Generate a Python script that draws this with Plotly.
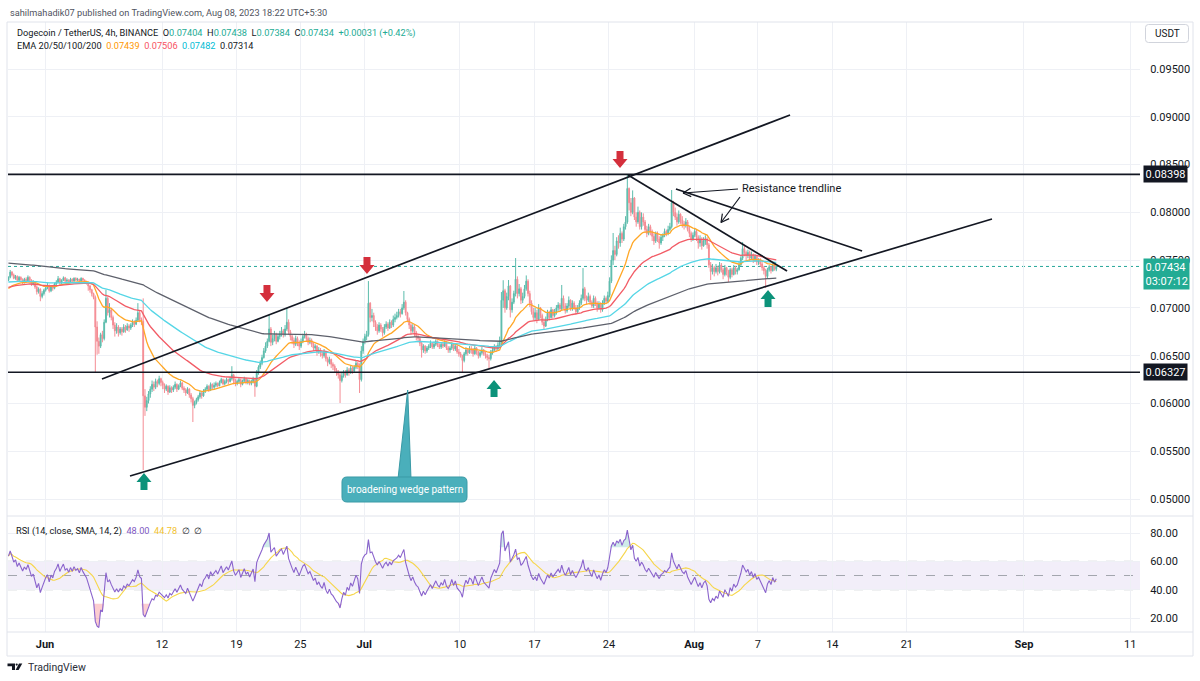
import math
import numpy as np
import pandas as pd
import plotly.graph_objects as go

# ---------------- data ----------------
# DOGE/USDT 4h candles, prices in units of 0.00001 USDT. Open = previous close.
FIRST_OPEN = 7290
LAST_CANDLE = "2023-08-08 17:30"

close_ = [
    7320, 7375, 7345,                      # May 28
    7310, 7330, 7290, 7320, 7295, 7270,    # May 29
    7300, 7285, 7320, 7290, 7250, 7265,    # May 30
    7220, 7170, 7195, 7120, 7150, 7185,    # May 31
    7210, 7230, 7180, 7225, 7205, 7250,    # Jun 1
    7270, 7305, 7260, 7290, 7315, 7280,    # Jun 2
    7290, 7270, 7300, 7280, 7310, 7290,    # Jun 3
    7300, 7280, 7310, 7290, 7275, 7260,    # Jun 4
    7230, 7190, 7150, 7110, 6800, 6650,    # Jun 5
    6600, 6720, 6680, 6850, 7100, 6950,    # Jun 6
    6980, 6900, 6820, 6760, 6800, 6740,    # Jun 7
    6780, 6750, 6800, 6770, 6810, 6790,    # Jun 8
    6820, 6850, 6830, 6870, 6950, 6880,    # Jun 9
    6860, 6080, 5960, 6030, 6100, 6150,    # Jun 10
    6200, 6170, 6230, 6210, 6260, 6220,    # Jun 11
    6190, 6150, 6180, 6120, 6165, 6140,    # Jun 12
    6170, 6200, 6150, 6185, 6215, 6160,    # Jun 13
    6140, 6110, 6150, 6090, 6050, 5980,    # Jun 14
    6010, 6040, 6070, 6110, 6080, 6130,    # Jun 15
    6150, 6180, 6140, 6200, 6170, 6190,    # Jun 16
    6210, 6185, 6220, 6250, 6205, 6230,    # Jun 17
    6250, 6230, 6260, 6300, 6240, 6210,    # Jun 18
    6230, 6250, 6200, 6235, 6260, 6225,    # Jun 19
    6240, 6210, 6230, 6260, 6180, 6330,    # Jun 20
    6380, 6420, 6480, 6550, 6600, 6650,    # Jun 21
    6780, 6640, 6680, 6720, 6650, 6700,    # Jun 22
    6730, 6760, 6720, 6780, 6850, 6750,    # Jun 23
    6700, 6660, 6620, 6680, 6640, 6600,    # Jun 24
    6650, 6700, 6720, 6680, 6640, 6660,    # Jun 25
    6620, 6580, 6600, 6540, 6560, 6520,    # Jun 26
    6500, 6540, 6470, 6430, 6460, 6410,    # Jun 27
    6390, 6350, 6320, 6300, 6240, 6290,    # Jun 28
    6330, 6300, 6350, 6320, 6370, 6340,    # Jun 29
    6380, 6420, 6390, 6250, 6550, 6650,    # Jun 30
    6700, 6720, 7050, 6900, 6920, 6850,    # Jul 1
    6800, 6760, 6820, 6780, 6740, 6800,    # Jul 2
    6830, 6790, 6850, 6820, 6880, 6900,    # Jul 3
    6920, 6960, 6940, 7000, 7060, 6950,    # Jul 4
    6880, 6820, 6760, 6800, 6740, 6700,    # Jul 5
    6680, 6630, 6560, 6600, 6550, 6580,    # Jul 6
    6600, 6630, 6590, 6620, 6650, 6610,    # Jul 7
    6590, 6620, 6600, 6640, 6580, 6560,    # Jul 8
    6580, 6620, 6570, 6600, 6540, 6520,    # Jul 9
    6500, 6450, 6520, 6560, 6530, 6570,    # Jul 10
    6560, 6520, 6580, 6540, 6500, 6530,    # Jul 11
    6560, 6520, 6500, 6480, 6470, 6530,    # Jul 12
    6560, 6590, 6570, 6610, 6640, 7080,    # Jul 13
    7180, 7000, 7120, 7230, 6980, 7060,    # Jul 14
    7150, 7300, 7150, 7200, 7080, 7120,    # Jul 15
    7200, 7280, 7150, 7050, 6960, 6900,    # Jul 16
    6950, 6880, 7000, 6920, 6850, 6810,    # Jul 17
    6880, 6950, 6900, 6980, 6920, 6960,    # Jul 18
    7000, 7030, 6990, 7100, 7020, 6970,    # Jul 19
    7020, 7080, 6990, 7050, 7000, 6960,    # Jul 20
    7000, 7050, 7100, 7200, 7100, 7080,    # Jul 21
    7120, 7060, 7020, 7100, 7050, 7000,    # Jul 22
    7040, 6980, 7050, 7100, 7070, 7130,    # Jul 23
    7280, 7500, 7600, 7560, 7700, 7680,    # Jul 24
    7780, 7720, 7850, 7900, 8250, 8100,    # Jul 25
    8000, 8150, 7950, 7900, 8000, 7850,    # Jul 26
    7950, 7900, 7820, 7780, 7850, 7800,    # Jul 27
    7750, 7700, 7780, 7720, 7680, 7740,    # Jul 28
    7760, 7800, 7780, 7820, 7850, 8100,    # Jul 29
    8000, 7950, 7900, 7980, 7920, 7880,    # Jul 30
    7860, 7900, 7820, 7780, 7720, 7760,    # Jul 31
    7800, 7740, 7680, 7720, 7650, 7700,    # Aug 1
    7720, 7660, 7450, 7380, 7420, 7380,    # Aug 2
    7420, 7380, 7450, 7400, 7350, 7420,    # Aug 3
    7380, 7320, 7400, 7350, 7420, 7380,    # Aug 4
    7400, 7450, 7520, 7620, 7580, 7550,    # Aug 5
    7580, 7520, 7560, 7500, 7540, 7480,    # Aug 6
    7500, 7460, 7420, 7390, 7330, 7400,    # Aug 7
    7430, 7390, 7450, 7404, 7434,          # Aug 8
]

high_ = [
    7330, 7397, 7385,
    7360, 7345, 7340, 7335, 7330, 7310,
    7315, 7320, 7340, 7330, 7300, 7290,
    7275, 7235, 7215, 7205, 7175, 7200,
    7225, 7260, 7245, 7240, 7240, 7265,
    7290, 7334, 7315, 7300, 7330, 7325,
    7310, 7300, 7315, 7310, 7320, 7320,
    7315, 7305, 7320, 7315, 7300, 7285,
    7270, 7240, 7200, 7160, 7130, 6860,
    6690, 6740, 6760, 6880, 7190, 7120,
    7050, 7000, 6920, 6850, 6840, 6820,
    6800, 6800, 6830, 6820, 6840, 6830,
    6840, 6880, 6870, 6900, 7050, 6970,
    6900, 7100, 6150, 6070, 6130, 6180,
    6240, 6230, 6260, 6250, 6290, 6270,
    6240, 6210, 6200, 6190, 6190, 6180,
    6190, 6230, 6210, 6200, 6240, 6225,
    6180, 6160, 6170, 6160, 6110, 6070,
    6030, 6060, 6090, 6130, 6120, 6150,
    6170, 6200, 6190, 6220, 6210, 6220,
    6230, 6220, 6240, 6270, 6260, 6250,
    6270, 6260, 6280, 6390, 6310, 6260,
    6250, 6270, 6260, 6250, 6280, 6270,
    6260, 6250, 6250, 6280, 6270, 6350,
    6400, 6450, 6510, 6580, 6640, 6680,
    6930, 6800, 6720, 6760, 6740, 6730,
    6760, 6800, 6780, 6820, 7000, 6880,
    6770, 6720, 6690, 6710, 6700, 6660,
    6680, 6730, 6760, 6740, 6700, 6690,
    6680, 6640, 6620, 6610, 6590, 6580,
    6540, 6570, 6550, 6490, 6490, 6470,
    6430, 6410, 6370, 6350, 6320, 6320,
    6350, 6350, 6380, 6370, 6400, 6390,
    6400, 6450, 6440, 6420, 6600, 6680,
    6730, 6760, 7281, 7060, 6990, 6950,
    6870, 6830, 6850, 6840, 6800, 6830,
    6860, 6850, 6880, 6870, 6920, 6940,
    6960, 6990, 6990, 7040, 7177, 7080,
    6960, 6900, 6840, 6830, 6820, 6760,
    6720, 6700, 6650, 6620, 6610, 6600,
    6620, 6660, 6640, 6650, 6670, 6660,
    6630, 6640, 6640, 6660, 6650, 6600,
    6600, 6640, 6630, 6620, 6610, 6570,
    6540, 6510, 6540, 6590, 6580, 6600,
    6600, 6580, 6610, 6590, 6550, 6560,
    6590, 6570, 6540, 6520, 6510, 6560,
    6590, 6620, 6610, 6640, 6700, 7166,
    7290, 7200, 7160, 7292, 7240, 7100,
    7180, 7522, 7330, 7250, 7220, 7160,
    7240, 7340, 7300, 7180, 7080, 7000,
    7000, 6980, 7040, 7010, 6940, 6890,
    6910, 6980, 6970, 7010, 6990, 6990,
    7030, 7060, 7050, 7240, 7130, 7050,
    7050, 7120, 7090, 7080, 7070, 7030,
    7030, 7080, 7140, 7417, 7220, 7130,
    7160, 7140, 7080, 7130, 7120, 7070,
    7070, 7060, 7080, 7130, 7120, 7170,
    7320, 7550, 7784, 7650, 7740, 7760,
    7840, 7800, 7880, 7960, 8398, 8260,
    8150, 8230, 8160, 8000, 8060, 8020,
    8000, 7990, 7920, 7860, 7880, 7870,
    7820, 7780, 7800, 7800, 7750, 7770,
    7780, 7830, 7820, 7860, 7890, 8234,
    8120, 8050, 7990, 8020, 7990, 7960,
    7910, 7940, 7920, 7850, 7800, 7790,
    7830, 7820, 7760, 7760, 7740, 7740,
    7760, 7740, 7680, 7480, 7460, 7440,
    7460, 7440, 7480, 7470, 7420, 7450,
    7430, 7400, 7420, 7420, 7450, 7440,
    7420, 7480, 7540, 7690, 7650, 7600,
    7610, 7600, 7590, 7570, 7560, 7550,
    7520, 7520, 7480, 7440, 7410, 7420,
    7450, 7440, 7470, 7460, 7438,
]

low_ = [
    7280, 7310, 7330,
    7300, 7295, 7280, 7275, 7285, 7250,
    7255, 7270, 7275, 7280, 7230, 7235,
    7200, 7140, 7150, 7070, 7100, 7130,
    7170, 7195, 7160, 7165, 7180, 7195,
    7240, 7260, 7240, 7250, 7280, 7265,
    7265, 7255, 7260, 7270, 7275, 7280,
    7280, 7270, 7275, 7280, 7255, 7245,
    7180, 7160, 7120, 7090, 6320, 6510,
    6520, 6580, 6640, 6660, 6840, 6920,
    6900, 6870, 6780, 6700, 6730, 6700,
    6720, 6710, 6740, 6740, 6760, 6750,
    6770, 6800, 6800, 6820, 6860, 6850,
    6820, 5304, 5870, 5920, 6000, 6060,
    6120, 6130, 6150, 6170, 6190, 6180,
    6150, 6110, 6130, 6090, 6110, 6110,
    6120, 6150, 6120, 6140, 6170, 6140,
    6110, 6080, 6100, 6060, 6010, 5806,
    5950, 5990, 6020, 6050, 6050, 6070,
    6110, 6130, 6120, 6130, 6150, 6150,
    6170, 6170, 6180, 6210, 6190, 6190,
    6210, 6200, 6220, 6240, 6200, 6180,
    6190, 6210, 6170, 6190, 6220, 6200,
    6200, 6190, 6190, 6210, 6070, 6170,
    6300, 6360, 6400, 6470, 6530, 6580,
    6640, 6600, 6610, 6650, 6620, 6640,
    6670, 6700, 6690, 6700, 6760, 6720,
    6660, 6620, 6580, 6600, 6600, 6560,
    6580, 6630, 6680, 6650, 6610, 6620,
    6590, 6550, 6560, 6500, 6520, 6490,
    6470, 6480, 6440, 6390, 6410, 6370,
    6350, 6320, 6290, 6260, 6005, 6220,
    6270, 6270, 6290, 6290, 6310, 6310,
    6320, 6360, 6360, 6110, 6230, 6520,
    6620, 6660, 6700, 6850, 6860, 6800,
    6760, 6720, 6740, 6750, 6700, 6720,
    6780, 6760, 6780, 6790, 6800, 6850,
    6880, 6900, 6900, 6930, 6980, 6920,
    6850, 6780, 6720, 6740, 6700, 6660,
    6640, 6600, 6480, 6530, 6520, 6530,
    6560, 6580, 6570, 6570, 6600, 6590,
    6570, 6570, 6580, 6590, 6560, 6530,
    6530, 6560, 6550, 6550, 6520, 6490,
    6480, 6330, 6430, 6500, 6500, 6520,
    6520, 6490, 6510, 6510, 6470, 6480,
    6510, 6500, 6470, 6450, 6371, 6450,
    6510, 6550, 6540, 6560, 6600, 6610,
    7000, 6950, 6980, 7080, 6900, 6950,
    7040, 7120, 7100, 7120, 7040, 7050,
    7100, 7180, 7120, 7010, 6930, 6870,
    6870, 6840, 6870, 6890, 6820, 6770,
    6800, 6860, 6870, 6890, 6890, 6900,
    6930, 6970, 6960, 6970, 6990, 6940,
    6950, 7000, 6970, 6970, 6980, 6930,
    6940, 6980, 7030, 7080, 7070, 7040,
    7060, 7030, 7000, 7000, 7020, 6960,
    6980, 6950, 6960, 7030, 7040, 7050,
    7110, 7260, 7450, 7500, 7540, 7620,
    7640, 7680, 7700, 7820, 7880, 8020,
    7960, 7980, 7920, 7850, 7880, 7820,
    7820, 7860, 7790, 7740, 7760, 7760,
    7700, 7660, 7680, 7690, 7620, 7660,
    7700, 7740, 7750, 7760, 7800, 7830,
    7960, 7920, 7860, 7880, 7880, 7840,
    7820, 7840, 7800, 7740, 7690, 7700,
    7740, 7700, 7620, 7640, 7610, 7640,
    7660, 7620, 7420, 7292, 7350, 7330,
    7360, 7340, 7360, 7370, 7300, 7330,
    7340, 7271, 7300, 7320, 7340, 7350,
    7350, 7390, 7440, 7500, 7540, 7500,
    7520, 7490, 7500, 7470, 7480, 7450,
    7450, 7430, 7390, 7350, 7208, 7310,
    7380, 7360, 7380, 7390, 7384,
]

ema_periods = [20, 50, 100, 200]
ema_colors = ["#ffa726", "#f25c66", "#55d6e6", "#5d606b"]
ema_start = [7190, 7210, 7270, 7470]        # EMA levels at the left edge
rsi_seed_gain, rsi_seed_loss = 24.0, 15.0   # Wilder averages at the left edge

x_tick_dates = ["2023-06-01", "2023-06-12", "2023-06-19", "2023-06-25", "2023-07-01",
                "2023-07-10", "2023-07-17", "2023-07-24", "2023-08-01", "2023-08-07",
                "2023-08-14", "2023-08-21", "2023-09-01", "2023-09-11"]
x_tick_labels = ["<b>Jun</b>", "12", "19", "25", "<b>Jul</b>", "10", "17", "24",
                 "<b>Aug</b>", "7", "14", "21", "<b>Sep</b>", "11"]
price_ticks = [0.050, 0.055, 0.060, 0.065, 0.070, 0.075, 0.080, 0.085, 0.090, 0.095]
rsi_ticks = [20, 40, 60, 80]
key_levels = [0.08398, 0.06327]
last_price = 0.07434

# drawings anchored in (time, price)
trend_lines = [
    (("2023-06-06 08:30", 0.06256), ("2023-08-10 00:30", 0.09019)),   # upper wedge
    (("2023-06-08 23:45", 0.05241), ("2023-08-29 00:00", 0.07930)),   # lower wedge
    (("2023-07-25 19:00", 0.08391), ("2023-08-09 17:45", 0.07386)),   # resistance
    (("2023-07-30 07:10", 0.08244), ("2023-08-16 19:00", 0.07595)),   # second line
]
sell_marks = [("2023-06-21 20:40", 0.07062), ("2023-07-01 06:15", 0.07355),
              ("2023-07-25 01:00", 0.08464)]
buy_marks = [("2023-06-10 07:15", 0.05272), ("2023-07-13 04:50", 0.06245),
             ("2023-08-07 22:50", 0.07187)]

# ---------------- derived series ----------------
times = pd.date_range(end=LAST_CANDLE, periods=len(close_), freq="4h")
c = np.array(close_, float)
o = np.concatenate([[FIRST_OPEN], c[:-1]])
h = np.maximum(np.array(high_, float), np.maximum(o, c))
l = np.minimum(np.array(low_, float), np.minimum(o, c))
S = 1e-5


def ema(vals, n, seed):
    a = 2.0 / (n + 1)
    e, out = seed, []
    for v in vals:
        e = a * v + (1 - a) * e
        out.append(e)
    return np.array(out)


emas = [ema(c, n, s) * S for n, s in zip(ema_periods, ema_start)]

ag, al, prev = rsi_seed_gain, rsi_seed_loss, FIRST_OPEN
rsi = []
for v in c:
    ch = v - prev
    ag = (ag * 13 + max(ch, 0)) / 14
    al = (al * 13 + max(-ch, 0)) / 14
    rsi.append(100 - 100 / (1 + ag / al) if al > 0 else 100)
    prev = v
rsi = np.array(rsi)
rsi_ma = pd.Series(rsi).rolling(14, min_periods=1).mean().values

# ---------------- geometry helpers (pixels -> paper) ----------------
W, H = 1200, 681
PL, PR, PT, PB = 8, 1140, 22, 632


def fx(p):
    return (p - PL) / (PR - PL)


def fy(p):
    return (PB - p) / (PB - PT)


def P(xp, yp):
    return f"{fx(xp):.5f},{fy(yp):.5f}"


TXT = "#131722"
GRID = "#eef0f5"
INC, DEC = "#5cbcac", "#f48c94"
FONT = "Roboto, Arial, sans-serif"

fig = go.Figure()
fig.add_trace(go.Candlestick(
    x=times, open=o * S, high=h * S, low=l * S, close=c * S,
    increasing=dict(line=dict(color=INC, width=1), fillcolor=INC),
    decreasing=dict(line=dict(color=DEC, width=1), fillcolor=DEC),
    whiskerwidth=0, hoverinfo="skip", showlegend=False, xaxis="x", yaxis="y"))
for e, col in zip(emas, ema_colors):
    fig.add_trace(go.Scatter(x=times, y=e, mode="lines", line=dict(color=col, width=1.3),
                             hoverinfo="skip", showlegend=False, xaxis="x", yaxis="y"))

# RSI pane
n = len(rsi)
fig.add_trace(go.Scatter(x=times, y=[70] * n, mode="lines", line=dict(width=0),
                         hoverinfo="skip", showlegend=False, xaxis="x", yaxis="y2"))
fig.add_trace(go.Scatter(x=times, y=np.maximum(rsi, 70), mode="lines", line=dict(width=0),
                         fill="tonexty", fillcolor="rgba(38,166,154,0.22)",
                         hoverinfo="skip", showlegend=False, xaxis="x", yaxis="y2"))
fig.add_trace(go.Scatter(x=times, y=[30] * n, mode="lines", line=dict(width=0),
                         hoverinfo="skip", showlegend=False, xaxis="x", yaxis="y2"))
fig.add_trace(go.Scatter(x=times, y=np.minimum(rsi, 30), mode="lines", line=dict(width=0),
                         fill="tonexty", fillcolor="rgba(242,54,69,0.25)",
                         hoverinfo="skip", showlegend=False, xaxis="x", yaxis="y2"))
fig.add_trace(go.Scatter(x=times, y=rsi_ma, mode="lines", line=dict(color="#f6d64a", width=1.1),
                         hoverinfo="skip", showlegend=False, xaxis="x", yaxis="y2"))
fig.add_trace(go.Scatter(x=times, y=rsi, mode="lines", line=dict(color="#8a63cc", width=1.1),
                         hoverinfo="skip", showlegend=False, xaxis="x", yaxis="y2"))

shapes = []
# RSI band and levels
shapes.append(dict(type="rect", xref="paper", yref="y2", x0=0, x1=1, y0=40, y1=60,
                   fillcolor="rgba(126,87,194,0.10)", line=dict(width=0), layer="below"))
for lv in (60, 50, 40):
    shapes.append(dict(type="line", xref="paper", yref="y2", x0=0, x1=1, y0=lv, y1=lv,
                       line=dict(color="#a3a6ae", width=1, dash="dash"), layer="between"))
# current price dotted line
shapes.append(dict(type="line", xref="paper", yref="y", x0=0, x1=1, y0=last_price, y1=last_price,
                   line=dict(color="#26a69a", width=1, dash="dot"), layer="between"))
# key horizontal levels
for lv in key_levels:
    shapes.append(dict(type="line", xref="paper", yref="y", x0=0, x1=1, y0=lv, y1=lv,
                       line=dict(color=TXT, width=1.7)))
# trend lines
for (t0, p0), (t1, p1) in trend_lines:
    shapes.append(dict(type="line", xref="x", yref="y", x0=t0, y0=p0, x1=t1, y1=p1,
                       line=dict(color=TXT, width=1.7)))
# block arrows (pixel-sized, anchored to time/price)
DOWN = "M0,0 L7.5,9 L3.5,9 L3.5,17 L-3.5,17 L-3.5,9 L-7.5,9 Z"
UP = "M0,0 L7.5,-9 L3.5,-9 L3.5,-17 L-3.5,-17 L-3.5,-9 L-7.5,-9 Z"
for t, p in sell_marks:
    shapes.append(dict(type="path", xref="x", yref="y", xsizemode="pixel", ysizemode="pixel",
                       xanchor=t, yanchor=p, path=DOWN, fillcolor="#d42f3c", line=dict(width=0)))
for t, p in buy_marks:
    shapes.append(dict(type="path", xref="x", yref="y", xsizemode="pixel", ysizemode="pixel",
                       xanchor=t, yanchor=p, path=UP, fillcolor="#0c927a", line=dict(width=0)))


# "Resistance trendline" pointer arrows (open heads)
def arrow(x0, y0, x1, y1, head=9.0, ang=28):
    dx, dy = x0 - x1, y0 - y1
    d = math.hypot(dx, dy)
    ux, uy = dx / d, dy / d
    out = [dict(type="line", xref="paper", yref="paper", x0=fx(x0), y0=fy(y0), x1=fx(x1), y1=fy(y1),
                line=dict(color=TXT, width=1.2))]
    for s in (1, -1):
        a = math.radians(ang * s)
        hx = x1 + head * (ux * math.cos(a) - uy * math.sin(a))
        hy = y1 + head * (ux * math.sin(a) + uy * math.cos(a))
        out.append(dict(type="line", xref="paper", yref="paper", x0=fx(x1), y0=fy(y1),
                        x1=fx(hx), y1=fy(hy), line=dict(color=TXT, width=1.2)))
    return out


shapes += arrow(738, 189, 683, 193)
shapes += arrow(740, 197, 721, 222.5)


# callout bubble
def rrect(x0, y0, x1, y1, r):
    return (f"M{P(x0 + r, y0)} L{P(x1 - r, y0)} Q{P(x1, y0)} {P(x1, y0 + r)} "
            f"L{P(x1, y1 - r)} Q{P(x1, y1)} {P(x1 - r, y1)} L{P(x0 + r, y1)} "
            f"Q{P(x0, y1)} {P(x0, y1 - r)} L{P(x0, y0 + r)} Q{P(x0, y0)} {P(x0 + r, y0)} Z")


CALL = "#4aafbb"
shapes.append(dict(type="path", xref="paper", yref="paper",
                   path=f"M{P(398, 479)} L{P(407.7, 390)} L{P(411, 479)} Z",
                   fillcolor=CALL, line=dict(color="#3a9aa6", width=1)))
shapes.append(dict(type="path", xref="paper", yref="paper", path=rrect(342, 477, 467, 502, 5),
                   fillcolor=CALL, line=dict(color="#3a9aa6", width=1)))

# frame and separators
shapes.append(dict(type="rect", xref="paper", yref="paper", x0=fx(7), x1=fx(1193), y0=fy(656), y1=fy(22),
                   line=dict(color="#e0e3eb", width=1)))
for yy in (516, 632):
    shapes.append(dict(type="line", xref="paper", yref="paper", x0=fx(7), x1=fx(1193), y0=fy(yy), y1=fy(yy),
                       line=dict(color="#e0e3eb", width=1)))
# USDT box
shapes.append(dict(type="path", xref="paper", yref="paper", path=rrect(1145.5, 24.5, 1188.5, 42.5, 3),
                   fillcolor="white", line=dict(color="#d1d4dc", width=1)))
# TradingView logo
shapes.append(dict(type="path", xref="paper", yref="paper",
                   path=f"M{P(7.5, 663.5)} L{P(15, 663.5)} L{P(15, 670)} L{P(12, 670)} L{P(12, 666.3)} L{P(7.5, 666.3)} Z",
                   fillcolor=TXT, line=dict(width=0)))
shapes.append(dict(type="circle", xref="paper", yref="paper", x0=fx(15.6), x1=fx(17.8), y0=fy(663.5), y1=fy(665.7),
                   fillcolor=TXT, line=dict(width=0)))
shapes.append(dict(type="path", xref="paper", yref="paper",
                   path=f"M{P(19, 663.5)} L{P(22.3, 663.5)} L{P(18.6, 670)} L{P(15.6, 670)} Z",
                   fillcolor=TXT, line=dict(width=0)))

NB = "\u00a0"
G = "#22ab94"


def col(t, cl):
    return f"<span style='color:{cl}'>{t}</span>"


ann = []


def A(text, xp, yp, size=9.2, color=TXT, xanchor="left", **kw):
    d = dict(text=text, x=fx(xp), y=fy(yp), xref="paper", yref="paper", showarrow=False,
             xanchor=xanchor, yanchor="middle", font=dict(family=FONT, size=size, color=color))
    d.update(kw)
    ann.append(d)


A("sahilmahadik07 published on TradingView.com, Aug 08, 2023 18:22 UTC+5:30", 8, 12.5, 9.2, "#50535e")
A("Dogecoin / TetherUS, 4h, BINANCE" + NB * 2 + "O" + col("0.07404", G) + NB * 2 + "H" + col("0.07438", G)
  + NB * 2 + "L" + col("0.07384", G) + NB * 2 + "C" + col("0.07434", G) + NB * 2
  + col("+0.00031 (+0.42%)", G), 15, 33.5, 9.2)
A("EMA 20/50/100/200" + NB * 2 + col("0.07439", "#ff9800") + NB * 2 + col("0.07506", "#f7525f")
  + NB * 2 + col("0.07482", "#00bcd4") + NB * 2 + col("0.07314", TXT), 15, 46, 9.2)
A("RSI (14, close, SMA, 14, 2)" + NB * 2 + col("48.00", "#7e57c2") + NB * 2 + col("44.78", "#f2c230")
  + NB * 2 + "\u2205" + NB * 2 + "\u2205", 14, 531, 9.2)
A("Resistance trendline", 740, 188.5, 11)
A("broadening wedge pattern", 404.5, 489.5, 10, "white", xanchor="center")
A("USDT", 1167, 33.5, 10, TXT, xanchor="center")
A("TradingView", 26, 667, 10.5, "#2a2e39")
for lv in key_levels:
    ann.append(dict(text=f"{lv:.5f}", x=fx(1143), xref="paper", y=lv, yref="y", showarrow=False,
                    xanchor="left", yanchor="middle", bgcolor=TXT, borderpad=1.5,
                    font=dict(family=FONT, size=11, color="white")))
ann.append(dict(text="0.07434<br>03:07:12", x=fx(1143), y=fy(258), xref="paper", yref="paper",
                showarrow=False, xanchor="left", yanchor="top", bgcolor=G, borderpad=1.5, align="left",
                font=dict(family=FONT, size=11, color="white")))

fig.update_layout(
    template="none", width=W, height=H,
    margin=dict(l=PL, r=W - PR, t=PT, b=H - PB, pad=0),
    paper_bgcolor="white", plot_bgcolor="white", showlegend=False,
    font=dict(family=FONT, size=11, color=TXT),
    xaxis=dict(type="date", range=["2023-05-28 12:32", "2023-09-11 21:53"], anchor="y2",
               tickvals=x_tick_dates, ticktext=x_tick_labels, showgrid=True, gridcolor=GRID,
               zeroline=False, showline=False, ticks="outside", ticklen=2, tickcolor="rgba(0,0,0,0)",
               automargin=False,
               tickfont=dict(family=FONT, size=11, color=TXT), rangeslider=dict(visible=False)),
    yaxis=dict(domain=[fy(515), 1], range=[0.04833, 0.09992], side="right", anchor="x",
               tickvals=price_ticks, ticktext=[f"{v:.5f}" for v in price_ticks],
               showgrid=True, gridcolor=GRID, zeroline=False, showline=False, automargin=False,
               ticks="outside", ticklen=7, tickcolor="rgba(0,0,0,0)",
               tickfont=dict(family=FONT, size=11, color=TXT)),
    yaxis2=dict(domain=[0, fy(517)], range=[10.13, 91.3], side="right", anchor="x",
                tickvals=rsi_ticks, ticktext=[f"{v:.2f}" for v in rsi_ticks],
                showgrid=True, gridcolor=GRID, zeroline=False, showline=False, automargin=False,
                ticks="outside", ticklen=7, tickcolor="rgba(0,0,0,0)",
                tickfont=dict(family=FONT, size=11, color=TXT)),
    shapes=shapes, annotations=ann,
)

fig.write_html("out.html", config={"displayModeBar": False, "responsive": False})
